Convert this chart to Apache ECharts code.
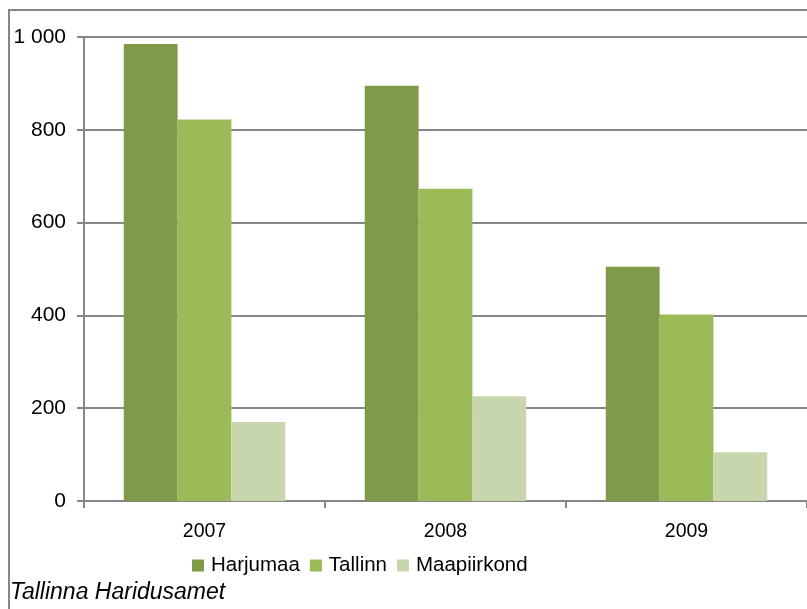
<!DOCTYPE html>
<html>
<head>
<meta charset="utf-8">
<script src="https://cdn.jsdelivr.net/npm/echarts@6/dist/echarts.min.js"></script>
<style>
html,body{margin:0;padding:0;background:#fff;}
#chart{width:807px;height:609px;}
</style>
</head>
<body>
<div id="chart"></div>
<script>
// andmed
var years = ['2007', '2008', '2009'];
var harjumaa = [985, 895, 505];
var tallinn = [822, 673, 402];
var maapiirkond = [170, 226, 105];
var yTicks = [0, 200, 400, 600, 800, 1000];

var chart = echarts.init(document.getElementById('chart'));
var font = 'Liberation Sans, Arial, sans-serif';
var option = {
	animation: false,
	textStyle: { fontFamily: font },
	graphic: [{
		type: 'rect',
		shape: { x: 9, y: 10, width: 820, height: 620 },
		style: { fill: 'none', stroke: '#868686', lineWidth: 2 }
	}, {
		type: 'text',
		left: 10,
		top: 581,
		style: { text: 'Tallinna Haridusamet', font: 'italic 23px ' + font, fill: '#000' }
	}],
	legend: {
		data: ['Harjumaa', 'Tallinn', 'Maapiirkond'],
		left: 187,
		top: 550,
		itemWidth: 12,
		itemHeight: 12,
		itemGap: 10,
		icon: 'rect',
		textStyle: { fontSize: 20.5, color: '#000', fontFamily: font, padding: [0, 0, 0, 2] }
	},
	grid: { left: 84, right: -3, top: 37, bottom: 108 },
	xAxis: {
		type: 'category',
		data: years,
		axisLine: { lineStyle: { color: '#868686', width: 2 } },
		axisTick: { show: true, length: 7, lineStyle: { color: '#868686', width: 2 } },
		axisLabel: { fontSize: 19.5, color: '#000', margin: 21, fontFamily: font }
	},
	yAxis: {
		type: 'value',
		min: 0,
		max: 1000,
		interval: 200,
		axisLine: { show: true, lineStyle: { color: '#868686', width: 2 } },
		axisTick: { show: true, length: 7, lineStyle: { color: '#868686', width: 2 } },
		splitLine: { lineStyle: { color: '#868686', width: 2 } },
		axisLabel: {
			fontSize: 21, color: '#000', margin: 18, fontFamily: font,
			formatter: function(v) { return v >= 1000 ? String(v).replace(/(\d)(\d{3})$/, '$1 $2') : String(v); }
		}
	},
	series: [{
		name: 'Harjumaa',
		type: 'bar',
		data: harjumaa,
		barGap: '0%',
		barCategoryGap: '33%',
		itemStyle: { color: '#7f9a48' }
	}, {
		name: 'Tallinn',
		type: 'bar',
		data: tallinn,
		itemStyle: { color: '#9bbb59' }
	}, {
		name: 'Maapiirkond',
		type: 'bar',
		data: maapiirkond,
		itemStyle: { color: '#c7d6ad' }
	}]
};
chart.setOption(option);
</script>
</body>
</html>
